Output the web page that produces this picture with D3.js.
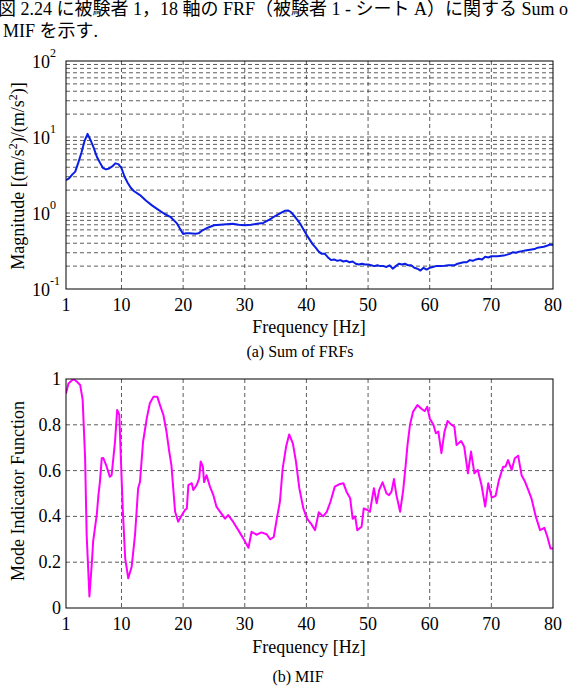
<!DOCTYPE html>
<html><head><meta charset="utf-8">
<script src="https://cdn.jsdelivr.net/npm/d3@7/dist/d3.min.js"></script>
<style>
html,body{margin:0;padding:0;background:#fff;overflow:hidden;}
svg text{font-family:"Liberation Serif","Noto Sans CJK JP",serif;fill:#000;}
</style></head>
<body><svg id="c" width="568" height="694"></svg>
<script>
// ---------- Data ----------
const headerLines = ["図 2.24 に被験者 1，18 軸の FRF（被験者 1 - シート A）に関する Sum of FRFs と", "MIF を示す."];
const xTicks = [1, 10, 20, 30, 40, 50, 60, 70, 80];
const yTicksA = [0.1, 1, 10, 100];
const yTickExpA = ["-1", "0", "1", "2"];
const yTicksB = [0, 0.2, 0.4, 0.6, 0.8, 1];
const yTickLabelsB = ["0", "0.2", "0.4", "0.6", "0.8", "1"];

const freqA = [1,1.5,2,2.5,3,3.5,4,4.5,5,5.5,6,6.5,7,7.5,8,8.5,9,9.5,10,10.5,11,11.5,12,13,14,15,16,17,18,19,19.5,20,20.5,21,22,22.5,23,24,25,26,27,28,29,30,31,32,33,34,35,36,36.5,37,37.5,38,38.5,39,39.5,40,40.5,41,41.5,42,42.5,43,43.5,44,44.5,45,45.5,46,46.5,47,47.5,48,48.5,49,49.5,50,50.5,51,51.5,52,52.5,53,53.5,54,54.5,55,55.5,56,56.5,57,57.5,58,58.5,59,59.5,60,60.5,61,62,63,64,64.5,65,65.5,66,66.5,67,67.5,68,68.5,69,69.5,70,71,72,73,73.5,74,74.5,75,75.5,76,76.5,77,77.5,78,78.5,79,79.5,80];
const magA = [2.7,2.85,3.2,3.5,4.6,6.2,8.8,11.0,9.0,7.2,5.5,4.6,3.9,3.75,3.85,4.1,4.5,4.4,3.9,3.0,2.5,2.15,1.95,1.72,1.45,1.25,1.1,0.97,0.88,0.73,0.62,0.53,0.54,0.54,0.535,0.54,0.58,0.64,0.69,0.70,0.71,0.72,0.70,0.69,0.70,0.72,0.74,0.82,0.92,1.02,1.07,1.08,1.03,0.92,0.82,0.72,0.61,0.52,0.45,0.39,0.35,0.31,0.29,0.29,0.26,0.24,0.245,0.235,0.24,0.23,0.235,0.225,0.23,0.215,0.21,0.215,0.21,0.21,0.205,0.2,0.205,0.2,0.2,0.195,0.205,0.185,0.2,0.215,0.21,0.215,0.205,0.205,0.19,0.185,0.175,0.19,0.18,0.19,0.195,0.2,0.2,0.205,0.205,0.215,0.22,0.225,0.225,0.24,0.235,0.245,0.25,0.245,0.265,0.26,0.27,0.27,0.275,0.29,0.305,0.3,0.31,0.315,0.32,0.325,0.33,0.335,0.35,0.355,0.36,0.37,0.385,0.38];

const freqB = [1,1.4,2.2,2.7,3.3,3.7,4.1,4.35,4.8,5.2,5.4,6.0,6.25,6.5,6.8,7.05,7.6,8.1,8.4,8.95,9.3,9.65,9.9,10.2,10.6,11.1,11.65,12.2,12.7,13,13.5,14.1,14.6,15.2,15.8,16.25,16.8,17.3,17.75,18.1,18.7,19.2,19.8,20.3,20.6,20.85,21.4,21.65,22.2,22.6,22.85,23.2,23.4,23.8,24.35,24.9,25.4,26,26.8,27.3,28.1,28.95,29.75,30.6,31.1,31.9,32.7,33.55,34.1,34.7,35.2,35.7,36.15,36.7,37.2,37.8,38.3,38.85,39.5,40.1,40.7,41.4,42.0,42.7,43.3,43.9,44.6,45.3,46,46.5,47.1,47.5,47.9,48.25,48.95,49.3,49.9,50.3,50.75,50.95,51.4,51.8,52.35,53,53.4,53.8,54.2,54.6,55.2,55.7,56.1,56.4,56.8,57.3,58.0,58.7,59.2,59.6,60.0,60.6,61,61.4,61.9,62.4,62.9,63.45,64,64.35,65.1,65.6,66.2,66.7,67.25,67.8,68.4,69,69.5,70.05,70.7,71.2,71.9,72.3,72.7,73.3,73.8,74.35,74.9,75.45,76,76.5,77.2,77.9,78.6,79.1,79.6,80];
const mifB = [0.937,0.98,1.0,0.99,0.974,0.91,0.655,0.32,0.05,0.2,0.29,0.41,0.49,0.55,0.654,0.655,0.617,0.573,0.58,0.726,0.865,0.843,0.655,0.435,0.217,0.13,0.18,0.32,0.523,0.55,0.726,0.828,0.894,0.923,0.923,0.886,0.843,0.77,0.683,0.624,0.42,0.377,0.406,0.428,0.435,0.537,0.545,0.515,0.537,0.566,0.64,0.617,0.55,0.58,0.53,0.493,0.443,0.42,0.39,0.406,0.377,0.34,0.304,0.263,0.333,0.32,0.33,0.322,0.30,0.31,0.39,0.464,0.61,0.704,0.758,0.719,0.64,0.523,0.435,0.39,0.37,0.34,0.418,0.4,0.42,0.464,0.53,0.54,0.545,0.508,0.479,0.39,0.4,0.34,0.355,0.435,0.428,0.42,0.493,0.523,0.457,0.515,0.549,0.5,0.493,0.508,0.563,0.493,0.42,0.515,0.624,0.712,0.80,0.857,0.886,0.869,0.86,0.879,0.828,0.8,0.763,0.77,0.676,0.77,0.817,0.802,0.792,0.712,0.729,0.704,0.588,0.683,0.588,0.603,0.537,0.443,0.545,0.482,0.49,0.555,0.617,0.617,0.646,0.603,0.654,0.665,0.58,0.552,0.515,0.479,0.4,0.34,0.35,0.31,0.26,0.26];

// ---------- Drawing ----------
const svg = d3.select("#c");
const L = 66, R = 553;
const x = d3.scaleLinear().domain([1, 80]).range([L, R]);
const yA = d3.scaleLog().domain([0.1, 100]).range([289, 61]);
const yB = d3.scaleLinear().domain([0, 1]).range([608, 379]);

svg.selectAll("text.hdr").data(headerLines).join("text")
  .attr("x", (d, i) => i === 0 ? -2 : 3).attr("y", (d, i) => i === 0 ? 15 : 37)
  .attr("font-size", 18).text(d => d);

function gridAndFrame(y, top, bottom, hVals) {
  const g = svg.append("g");
  const dash = "4,3";
  g.selectAll("line.v").data(xTicks.slice(1, -1)).join("line")
    .attr("x1", d => x(d)).attr("x2", d => x(d)).attr("y1", top).attr("y2", bottom)
    .attr("stroke", "#333").attr("stroke-width", 0.8).attr("stroke-dasharray", dash);
  g.selectAll("line.h").data(hVals).join("line")
    .attr("x1", L).attr("x2", R).attr("y1", d => y(d)).attr("y2", d => y(d))
    .attr("stroke", "#333").attr("stroke-width", 0.8).attr("stroke-dasharray", dash);
  return g;
}
function frame(top, bottom) {
  svg.append("rect").attr("x", L).attr("y", top).attr("width", R - L).attr("height", bottom - top)
    .attr("fill", "none").attr("stroke", "#000").attr("stroke-width", 1);
}

// Top plot grid
const minorA = [];
[-1, 0, 1].forEach(k => { for (let m = 1; m <= 9; m++) { const v = m * Math.pow(10, k); if (v > 0.1) minorA.push(v); } });
gridAndFrame(yA, 61, 289, minorA);
svg.append("defs").html('<clipPath id="ca"><rect x="66" y="61" width="487" height="228"/></clipPath><clipPath id="cb"><rect x="66" y="379" width="487" height="229"/></clipPath>');
const dataA = freqA.map((f, i) => [f, magA[i]]);
svg.append("path").datum(dataA).attr("clip-path", "url(#ca)")
  .attr("d", d3.line().x(d => x(d[0])).y(d => yA(d[1])))
  .attr("fill", "none").attr("stroke", "#0a1ee6").attr("stroke-width", 2).attr("stroke-linejoin", "round");
frame(61, 289);

// Top ticks
svg.selectAll("text.xa").data(xTicks).join("text")
  .attr("x", d => x(d)).attr("y", 311).attr("text-anchor", "middle").attr("font-size", 18).text(d => d);
const ya = svg.selectAll("text.ya").data(yTicksA).join("text")
  .attr("x", 32).attr("y", d => yA(d) + 7).attr("font-size", 18);
ya.append("tspan").text("10");
ya.append("tspan").attr("dy", -11).attr("font-size", 12).text((d, i) => yTickExpA[i]);
svg.append("text").attr("x", 309).attr("y", 333).attr("text-anchor", "middle").attr("font-size", 18).text("Frequency [Hz]");
svg.append("text").attr("x", 300).attr("y", 357).attr("text-anchor", "middle").attr("font-size", 16).text("(a) Sum of FRFs");
const tA = svg.append("text").attr("transform", "translate(24,176) rotate(-90)").attr("text-anchor", "middle").attr("font-size", 18);
tA.append("tspan").text("Magnitude [(m/s");
tA.append("tspan").attr("dy", -7).attr("font-size", 12).text("2");
tA.append("tspan").attr("dy", 7).text(")/(m/s");
tA.append("tspan").attr("dy", -7).attr("font-size", 12).text("2");
tA.append("tspan").attr("dy", 7).text(")]");

// Bottom plot
gridAndFrame(yB, 379, 608, [0.2, 0.4, 0.6, 0.8]);
const dataB = freqB.map((f, i) => [f, mifB[i]]);
svg.append("path").datum(dataB).attr("clip-path", "url(#cb)")
  .attr("d", d3.line().x(d => x(d[0])).y(d => yB(d[1])))
  .attr("fill", "none").attr("stroke", "#ff00ff").attr("stroke-width", 2).attr("stroke-linejoin", "round");
frame(379, 608);
svg.selectAll("text.xb").data(xTicks).join("text")
  .attr("x", d => x(d)).attr("y", 630).attr("text-anchor", "middle").attr("font-size", 18).text(d => d);
svg.selectAll("text.yb").data(yTicksB).join("text")
  .attr("x", 61).attr("y", d => yB(d) + 6).attr("text-anchor", "end").attr("font-size", 18).text((d, i) => yTickLabelsB[i]);
svg.append("text").attr("x", 309).attr("y", 653).attr("text-anchor", "middle").attr("font-size", 18).text("Frequency [Hz]");
svg.append("text").attr("x", 298).attr("y", 682).attr("text-anchor", "middle").attr("font-size", 16).text("(b) MIF");
svg.append("text").attr("transform", "translate(24,491) rotate(-90)").attr("text-anchor", "middle").attr("font-size", 18).text("Mode Indicator Function");
</script></body></html>
